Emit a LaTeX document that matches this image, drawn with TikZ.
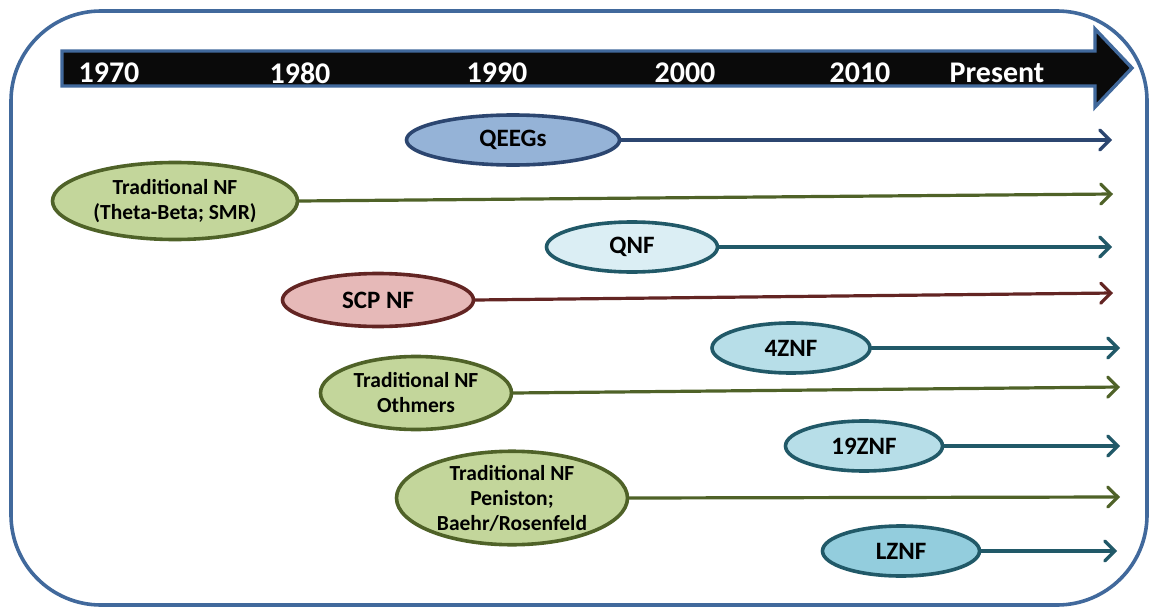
\documentclass[tikz,border=0pt]{standalone}
\usepackage{fontspec}
\setmainfont{Carlito}
\usepackage{tikz}
\usetikzlibrary{arrows.meta,shapes.geometric}
\definecolor{frameblue}{RGB}{65,105,156}
\definecolor{qfill}{RGB}{149,179,215}
\definecolor{qline}{RGB}{44,70,112}
\definecolor{gfill}{RGB}{195,214,155}
\definecolor{gline}{RGB}{79,98,40}
\definecolor{tline}{RGB}{33,89,104}
\definecolor{lfill}{RGB}{219,238,244}
\definecolor{mfill}{RGB}{183,222,232}
\definecolor{dfill}{RGB}{147,205,221}
\definecolor{rfill}{RGB}{230,185,184}
\definecolor{rline}{RGB}{99,37,35}
\newcommand{\bigtxt}{\fontsize{25}{28}\selectfont\bfseries}
\newcommand{\smalltxt}{\fontsize{21.5}{25}\selectfont\bfseries}

\begin{document}
\begin{tikzpicture}[x=1pt,y=-1pt,
oval/.style={ellipse,draw,line width=3.6pt,inner sep=0pt,align=center},
qoval/.style={oval,fill=qfill,draw=qline,font=\bigtxt},
goval/.style={oval,fill=gfill,draw=gline,font=\smalltxt},
toval/.style={oval,fill=#1,draw=tline,font=\bigtxt},
roval/.style={oval,fill=rfill,draw=rline,font=\bigtxt},
year/.style={text=white,font=\fontsize{30}{32}\selectfont\bfseries,inner sep=0pt},
arr/.style={-{Straight Barb[length=10pt,width=20pt,line cap=round]},line width=3.2pt,line cap=round}]
\useasboundingbox (0,0) rectangle (1150,607);
% frame
\draw[frameblue,line width=3.6pt,rounded corners=90pt] (11,11) rectangle (1147,605);
% time line
\draw[frameblue,line width=3.4pt,fill=black!96,line join=miter]
  (62,51) -- (1095,51) -- (1095,29) -- (1132,68) -- (1095,107) -- (1095,86) -- (62,86) -- cycle;
\node[year] (y1970) at (109,73) {1970};
\node[year] (y1980) at (300,73) {1980};
\node[year] (y1990) at (497,73) {1990};
\node[year] (y2000) at (685,73) {2000};
\node[year] (y2010) at (860,73) {2010};
\node[year] (ynow) at (997,73) {Present};
% methods
\node[qoval,minimum width=213pt,minimum height=50pt] (qeeg) at (513,140) {QEEGs};
\node[goval,minimum width=245pt,minimum height=77pt] (tnf) at (175,201) {Traditional NF\\(Theta-Beta; SMR)};
\node[toval=lfill,minimum width=171pt,minimum height=50pt] (qnf) at (632,247) {QNF};
\node[roval,minimum width=191pt,minimum height=53pt] (scp) at (378,300) {SCP NF};
\node[toval=mfill,minimum width=158pt,minimum height=50pt] (fourz) at (791,348) {4ZNF};
\node[goval,minimum width=191pt,minimum height=73pt] (othm) at (416,393) {Traditional NF\\Othmers};
\node[toval=mfill,minimum width=157pt,minimum height=50pt] (ninez) at (864,446) {19ZNF};
\node[goval,minimum width=231pt,minimum height=82pt] (penis) at (512,498) {Traditional NF\\Peniston;\\Baehr/Rosenfeld};
\node[toval=dfill,minimum width=157pt,minimum height=50pt] (lz) at (901,551) {LZNF};
% ends of the arrows
\coordinate (qeegE) at (1112,140);
\coordinate (tnfE) at (1113,194);
\coordinate (qnfE) at (1112,247);
\coordinate (scpE) at (1113,293);
\coordinate (fourzE) at (1120,348);
\coordinate (othmE) at (1120,387);
\coordinate (ninezE) at (1120,446);
\coordinate (penisE) at (1120,497);
\coordinate (lzE) at (1117,551);
\draw[arr,qline] (qeeg.east) -- (qeegE);
\draw[arr,gline] (tnf.east) -- (tnfE);
\draw[arr,tline] (qnf.east) -- (qnfE);
\draw[arr,rline] (scp.east) -- (scpE);
\draw[arr,tline] (fourz.east) -- (fourzE);
\draw[arr,gline] (othm.east) -- (othmE);
\draw[arr,tline] (ninez.east) -- (ninezE);
\draw[arr,gline] (penis.east) -- (penisE);
\draw[arr,tline] (lz.east) -- (lzE);
\end{tikzpicture}
\end{document}
